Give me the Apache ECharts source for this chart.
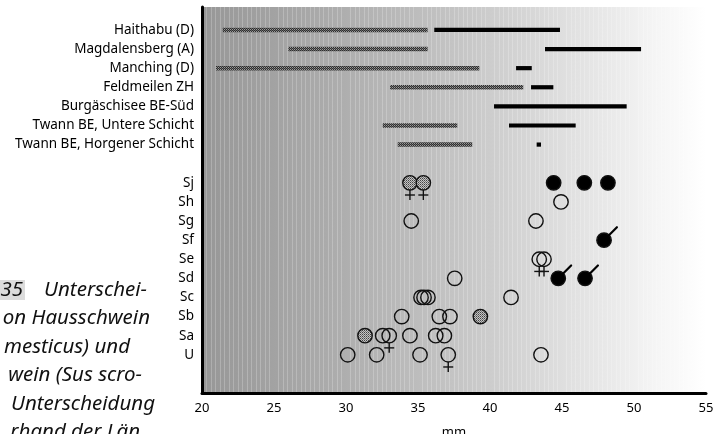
<!DOCTYPE html>
<html><head><meta charset="utf-8">
<script src="https://cdn.jsdelivr.net/npm/echarts/dist/echarts.min.js"></script>
<style>html,body{margin:0;padding:0;background:#fff}#c{width:714px;height:434px}</style>
</head><body><div id="c"></div>
<script>
// ---- data ----
const rowLabels = ['Haithabu (D)', 'Magdalensberg (A)', 'Manching (D)', 'Feldmeilen ZH',
  'Burgäschisee BE-Süd', 'Twann BE, Untere Schicht', 'Twann BE, Horgener Schicht', '',
  'Sj', 'Sh', 'Sg', 'Sf', 'Se', 'Sd', 'Sc', 'Sb', 'Sa', 'U'];
const xTickValues = [20, 25, 30, 35, 40, 45, 50, 55];
// domestic pig ranges (hatched) [site, from, to] in mm
const hatchedRanges = [
  ['Haithabu (D)', 21.44, 35.67],
  ['Magdalensberg (A)', 26.0, 35.67],
  ['Manching (D)', 20.97, 39.26],
  ['Feldmeilen ZH', 33.06, 42.31],
  ['Twann BE, Untere Schicht', 32.55, 37.73],
  ['Twann BE, Horgener Schicht', 33.59, 38.77]
];
// wild boar ranges (black)
const blackRanges = [
  ['Haithabu (D)', 36.13, 44.86],
  ['Magdalensberg (A)', 43.82, 50.49],
  ['Manching (D)', 41.81, 42.90],
  ['Feldmeilen ZH', 42.85, 44.40],
  ['Burgäschisee BE-Süd', 40.28, 49.49],
  ['Twann BE, Untere Schicht', 41.32, 45.95],
  ['Twann BE, Horgener Schicht', 43.24, 43.54]
];
// single finds [row, mm]
const openCircles = [
  ['Sh', 44.93], ['Sg', 34.53], ['Sg', 43.19], ['Sd', 37.55],
  ['Sc', 35.21], ['Sc', 35.42], ['Sc', 35.69], ['Sc', 41.46],
  ['Sb', 33.87], ['Sb', 36.48], ['Sb', 37.22],
  ['Sa', 32.55], ['Sa', 34.44], ['Sa', 36.23], ['Sa', 36.83],
  ['U', 30.12], ['U', 32.13], ['U', 35.14], ['U', 43.54]
];
const openFemale = [['Se', 43.42], ['Se', 43.75], ['Sa', 33.0], ['U', 37.1]];
const filledCircles = [['Sj', 44.42], ['Sj', 46.55], ['Sj', 48.19]];
const filledMale = [['Sf', 47.92], ['Sd', 44.74], ['Sd', 46.6]];
const stippledCircles = [['Sb', 39.33], ['Sa', 31.32]];
const stippledFemale = [['Sj', 34.44], ['Sj', 35.37]];
const captionLines = ['Unterschei-', 'on Hausschwein', 'mesticus) und', 'wein (Sus scro-', 'Unterscheidung', 'rhand der Län'];
const captionNumber = '35';

// ---- helpers ----
const rowOf = name => rowLabels.indexOf(name) + 1;
function makePattern(w, h, fn) {
  const c = document.createElement('canvas'); c.width = w; c.height = h;
  const g = c.getContext('2d');
  for (let y = 0; y < h; y++) for (let x = 0; x < w; x++) { g.fillStyle = fn(x, y); g.fillRect(x, y, 1, 1); }
  return { image: c, repeat: 'repeat' };
}
const hatchPattern = makePattern(4, 4, (x, y) => ((x + y) % 2 === 0) ? '#2e2e2e' : ((x % 2 === 0) ? '#9a9a9a' : '#6a6a6a'));
const stipplePattern = makePattern(2, 2, (x, y) => (x === 0 && y === 0) ? '#444' : (x === 1 && y === 1 ? '#777' : '#c4c4c4'));

function rangeRender(fill, h) {
  return function (params, api) {
    const s = api.coord([api.value(0), api.value(2)]);
    const e = api.coord([api.value(1), api.value(2)]);
    return { type: 'rect', shape: { x: s[0], y: s[1] - h / 2, width: e[0] - s[0], height: h }, style: { fill: fill } };
  };
}
function markerRender(fill, sign) {
  return function (params, api) {
    const p = api.coord([api.value(0), api.value(1)]);
    const cx = p[0], cy = p[1], r = 7.2;
    const ch = [];
    ch.push({ type: 'circle', shape: { cx: cx, cy: cy, r: r }, style: { fill: fill, stroke: '#111', lineWidth: 1.4 } });
    if (sign === 'female') {
      ch.push({ type: 'line', shape: { x1: cx, y1: cy + r, x2: cx, y2: cy + r + 10 }, style: { stroke: '#111', lineWidth: 1.4 } });
      ch.push({ type: 'line', shape: { x1: cx - 5, y1: cy + r + 5, x2: cx + 5, y2: cy + r + 5 }, style: { stroke: '#111', lineWidth: 1.4 } });
    } else if (sign === 'male') {
      const d = Math.SQRT1_2;
      ch.push({ type: 'line', shape: { x1: cx + (r - 1) * d, y1: cy - (r - 1) * d, x2: cx + (r + 11) * d, y2: cy - (r + 11) * d }, style: { stroke: '#000', lineWidth: 2.2, lineCap: 'round' } });
    }
    return { type: 'group', children: ch };
  };
}
const toPts = arr => arr.map(d => [d[1], rowOf(d[0])]);
const toRanges = arr => arr.map(d => [d[1], d[2], rowOf(d[0])]);

const chart = echarts.init(document.getElementById('c'), null, { renderer: 'canvas' });
const FONT = '"Noto Sans", "DejaVu Sans", sans-serif';

const graphics = [
  { type: 'rect', left: 0, top: 280, shape: { width: 25, height: 20 }, style: { fill: '#dcdcdc' }, z: 0 },
  { type: 'text', x: 23, y: 290, style: { text: captionNumber, fill: '#111', fontSize: 20.5, fontStyle: 'italic', fontFamily: FONT, align: 'right', verticalAlign: 'middle' } }
];
const capRight = [147, 150, 130, 142, 155, 140];
captionLines.forEach((t, i) => {
  graphics.push({ type: 'text', x: capRight[i], y: 290 + i * 28.5, style: { text: t, fill: '#111', fontSize: 20.5, fontStyle: 'italic', fontFamily: FONT, align: 'right', verticalAlign: 'middle' } });
});

chart.setOption({
  animation: false,
  backgroundColor: '#fff',
  grid: {
    left: 202, right: 8, top: 7, bottom: 41, show: true, borderWidth: 0,
    outerBoundsMode: 'none', containLabel: false,
    backgroundColor: { type: 'linear', x: 0, y: 0, x2: 1, y2: 0, colorStops: [
      { offset: 0, color: '#979797' }, { offset: 0.25, color: '#ababab' }, { offset: 0.49, color: '#c3c3c3' },
      { offset: 0.59, color: '#cfcfcf' }, { offset: 0.71, color: '#dedede' }, { offset: 0.83, color: '#ececec' },
      { offset: 0.91, color: '#f6f6f6' }, { offset: 1, color: '#ffffff' } ] }
  },
  xAxis: {
    type: 'value', position: 'bottom', min: xTickValues[0], max: xTickValues[xTickValues.length - 1], interval: 5,
    axisLine: { show: true, onZero: false, lineStyle: { color: '#000', width: 3 } },
    axisTick: { show: false },
    axisLabel: { color: '#000', fontSize: 13, margin: 9, fontFamily: FONT },
    splitLine: { show: false },
    minorTick: { show: false, splitNumber: 16 },
    minorSplitLine: { show: true, lineStyle: { color: 'rgba(255,255,255,0.22)', width: 1 } },
    name: 'mm', nameLocation: 'middle', nameGap: 33,
    nameTextStyle: { color: '#000', fontSize: 13, fontFamily: FONT }
  },
  yAxis: {
    type: 'value', inverse: true, min: -0.2, max: 20, position: 'left',
    axisLine: { show: true, onZero: false, lineStyle: { color: '#000', width: 3 } },
    axisTick: { show: false },
    splitLine: { show: false },
    axisLabel: {
      color: '#000', fontSize: 13.5, margin: 8, fontFamily: FONT,
      customValues: rowLabels.map((_, i) => i + 1),
      formatter: v => { const i = Math.round(v); return (Math.abs(v - i) < 1e-6 && i >= 1 && i <= rowLabels.length) ? rowLabels[i - 1] : ''; }
    }
  },
  graphic: graphics,
  series: [
    { type: 'custom', name: 'Hausschwein', data: toRanges(hatchedRanges), encode: { x: [0, 1], y: 2 }, renderItem: rangeRender(hatchPattern, 4.5), z: 3 },
    { type: 'custom', name: 'Wildschwein', data: toRanges(blackRanges), encode: { x: [0, 1], y: 2 }, renderItem: rangeRender('#000', 4.2), z: 3 },
    { type: 'custom', data: toPts(openCircles), encode: { x: 0, y: 1 }, renderItem: markerRender('none', null), z: 4 },
    { type: 'custom', data: toPts(openFemale), encode: { x: 0, y: 1 }, renderItem: markerRender('none', 'female'), z: 4 },
    { type: 'custom', data: toPts(stippledCircles), encode: { x: 0, y: 1 }, renderItem: markerRender(stipplePattern, null), z: 4 },
    { type: 'custom', data: toPts(stippledFemale), encode: { x: 0, y: 1 }, renderItem: markerRender(stipplePattern, 'female'), z: 4 },
    { type: 'custom', data: toPts(filledCircles), encode: { x: 0, y: 1 }, renderItem: markerRender('#000', null), z: 4 },
    { type: 'custom', data: toPts(filledMale), encode: { x: 0, y: 1 }, renderItem: markerRender('#000', 'male'), z: 4 }
  ]
});
</script></body></html>
